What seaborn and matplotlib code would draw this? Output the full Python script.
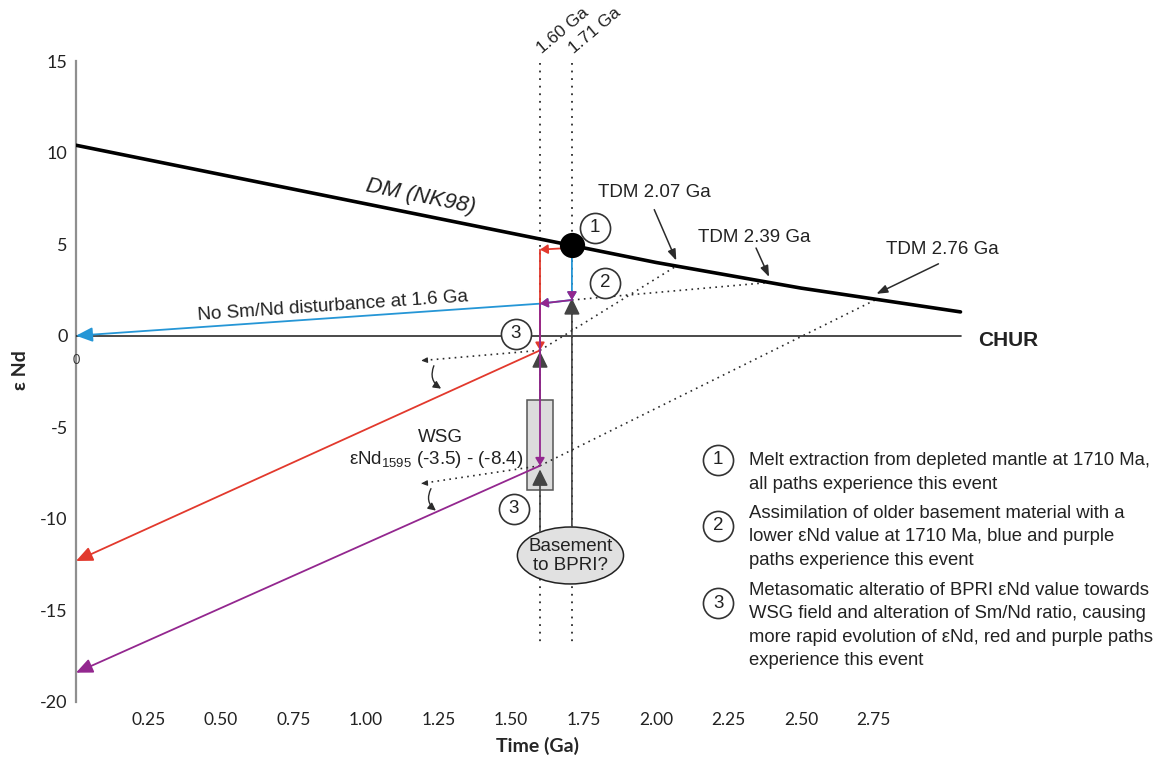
import numpy as np
import pandas as pd
import matplotlib
matplotlib.use("Agg")
import matplotlib.pyplot as plt
import seaborn as sns
from matplotlib.patches import Ellipse, Rectangle

# ---------------------------------------------------------------------------
# Data
# ---------------------------------------------------------------------------
# Depleted-mantle evolution curve, DM (NK98)
dm_time = [0.0, 0.5, 1.0, 1.5, 2.0, 2.5, 3.05]
dm_end = [10.4, 8.8, 7.2, 5.6, 4.0, 2.6, 1.3]

# Chondritic uniform reservoir
chur_time = [0.0, 3.05]
chur_end = [0.0, 0.0]

x_ticks = [0.25, 0.50, 0.75, 1.00, 1.25, 1.50, 1.75, 2.00, 2.25, 2.50, 2.75]
x_tick_labels = ["0.25", "0.50", "0.75", "1.00", "1.25", "1.50", "1.75",
                 "2.00", "2.25", "2.50", "2.75"]
y_ticks = [15, 10, 5, 0, -5, -10, -15, -20]
y_tick_labels = ["15", "10", "5", "0", "-5", "-10", "-15", "-20"]

# Event ages (Ga)
event_ages = [1.60, 1.71]
event_labels = ["1.60 Ga", "1.71 Ga"]

# Evolution paths: (time Ga, eNd) vertices
red_t = [1.71, 1.60, 1.60, 0.0]
red_e = [4.8, 4.7, -0.8, -12.3]
blue_t = [1.71, 1.71, 1.60, 0.0]
blue_e = [4.8, 1.95, 1.75, 0.0]
purple_t = [1.71, 1.60, 1.60, 0.0]
purple_e = [1.95, 1.75, -7.1, -18.4]

# Model ages where the projected paths meet the DM curve
tdm_ages = [2.07, 2.39, 2.76]
tdm_labels = ["TDM 2.07 Ga", "TDM 2.39 Ga", "TDM 2.76 Ga"]

# WSG field at 1595 Ma
wsg_high, wsg_low = -3.5, -8.4

legend_numbers = ["1", "2", "3"]
legend_lines = [
    ["Melt extraction from depleted mantle at 1710 Ma,",
     "all paths experience this event"],
    ["Assimilation of older basement material with a",
     "lower \u03b5Nd value at 1710 Ma, blue and purple",
     "paths experience this event"],
    ["Metasomatic alteratio of BPRI \u03b5Nd value towards",
     "WSG field and alteration of Sm/Nd ratio, causing",
     "more rapid evolution of \u03b5Nd, red and purple paths",
     "experience this event"],
]

RED = "#e2392d"
BLUE = "#2596d6"
PURPLE = "#93278f"
DARK = "#2b2b2b"

# ---------------------------------------------------------------------------
# Figure
# ---------------------------------------------------------------------------
sns.set_theme(style="white")
plt.rcParams["font.family"] = ["Liberation Sans", "DejaVu Sans"]
plt.rcParams["mathtext.fontset"] = "custom"
plt.rcParams["mathtext.rm"] = "Liberation Sans"
plt.rcParams["mathtext.it"] = "Liberation Sans:italic"

fig = plt.figure(figsize=(11.69, 7.60), dpi=100)
ax = fig.add_axes([76 / 1169, 1 - 702 / 760, 1084 / 1169, 641 / 760])
ax.set_xlim(0, 1084 / 290)
ax.set_ylim(-20, 15)

sns.despine(ax=ax, bottom=True)
ax.spines["left"].set_color("#8f8f8f")
ax.spines["left"].set_linewidth(1.6)

ax.set_xticks(x_ticks)
ax.set_xticklabels(x_tick_labels, fontfamily="Lato", fontsize=12.5, color="#222")
ax.set_yticks(y_ticks)
ax.set_yticklabels(y_tick_labels, fontfamily="Lato", fontsize=13, color="#222")
ax.tick_params(axis="x", length=0, pad=7)
ax.tick_params(axis="y", length=0, pad=6)

ax.set_xlabel("Time (Ga)", fontfamily="Lato", fontweight="bold", fontsize=14)
ax.xaxis.set_label_coords((537 - 76) / 1084, (702 - 746) / 641)
ax.xaxis.label.set_va("center")
ax.set_ylabel("\u03b5 Nd", fontfamily=["Lato", "DejaVu Sans"], fontweight="bold",
              fontsize=14)
ax.yaxis.set_label_coords((21 - 76) / 1084, (702 - 370) / 641)
ax.yaxis.label.set_va("center")

ax.text(0, -1.35, "0", fontsize=9, fontfamily="Lato", ha="center", va="center",
        color="#333")


def dm_at(t):
    return float(np.interp(t, dm_time, dm_end))


def screen_angle(p0, p1):
    a = ax.transData.transform([p0, p1])
    return np.degrees(np.arctan2(a[1, 1] - a[0, 1], a[1, 0] - a[0, 0]))


def seg(p0, p1, color, lw=1.2, head=None, z=5, hl=0.45, hw=0.2, ls="-"):
    style = "-" if head is None else f"-|>,head_length={hl},head_width={hw}"
    ax.annotate("", xy=p1, xytext=p0, zorder=z,
                arrowprops=dict(arrowstyle=style, color=color, lw=lw,
                                shrinkA=0, shrinkB=0, linestyle=ls,
                                mutation_scale=head or 10))


# DM curve and CHUR reference line
sns.lineplot(x=dm_time, y=dm_end, color="black", linewidth=2.6, ax=ax, zorder=4)
sns.lineplot(x=chur_time, y=chur_end, color=DARK, linewidth=1.2, ax=ax, zorder=3)
ax.text(3.214, -0.27, "CHUR", fontsize=15, fontweight="bold", ha="center",
        va="center", color="#222")

mid = 1.19
ang = screen_angle((1.0, dm_at(1.0)), (1.5, dm_at(1.5)))
ax.text(mid, dm_at(mid) + 1.0, "DM (NK98)", fontsize=16, style="italic",
        rotation=ang, rotation_mode="anchor", ha="center", va="center",
        color="#222")

# Event age markers
for age, lab in zip(event_ages, event_labels):
    ax.plot([age, age], [14.9, -16.9], color=DARK, lw=1.3,
            linestyle=(0, (1, 3.2)), zorder=2)
    ax.text(age + 0.015, 15.25, lab, fontsize=12.5, rotation=40,
            rotation_mode="anchor", ha="left", va="bottom", color="#222",
            clip_on=False)

# WSG field box
box_hw = 0.045
ax.add_patch(Rectangle((1.60 - box_hw, wsg_low), 2 * box_hw, wsg_high - wsg_low,
                       facecolor="#dcdcdc", edgecolor="#555", lw=1.1, zorder=2.5))
wsg_right = 1.60 - box_hw - 0.014
ax.text(wsg_right, -6.77, "\u03b5Nd$_{\\mathregular{1595}}$ (-3.5) - (-8.4)",
        fontsize=13.5, ha="right", va="center", color="#222")
ax.text(wsg_right - 0.286, -5.56, "WSG", fontsize=13.5, ha="center",
        va="center", color="#222")

# Basement ellipse with source arrows
ell_x, ell_y, ell_w, ell_h = 1.705, -12.0, 0.366, 3.11
ax.add_patch(Ellipse((ell_x, ell_y), ell_w, ell_h, facecolor="#e1e1e1",
                     edgecolor="#222", lw=1.1, zorder=2))
ax.text(ell_x, ell_y - 0.05, "Basement\nto BPRI?", fontsize=13.5, ha="center",
        va="center", linespacing=1.15, color="#222", zorder=6)


def ellipse_top(t):
    dx = (t - ell_x) / (ell_w / 2)
    return ell_y + (ell_h / 2) * np.sqrt(max(0.0, 1 - dx * dx))


tri = dict(head=22, hl=0.45, hw=0.22)
seg((1.71, ellipse_top(1.71)), (1.71, 2.05), "#444", lw=1.2, z=3, **tri)
seg((1.60, ellipse_top(1.60)), (1.60, -7.3), "#444", lw=1.2, z=3, **tri)
seg((1.60, wsg_high), (1.60, -0.85), "#444", lw=1.2, z=3, **tri)

# Projected (dotted) paths to the DM curve
dots = (0, (1, 2.6))
proj_start = [(red_t[2], red_e[2]), (blue_t[1], blue_e[1]),
              (purple_t[2], purple_e[2])]
for (t0, e0), tdm in zip(proj_start, tdm_ages):
    ax.plot([t0, tdm], [e0, dm_at(tdm)], color=DARK, lw=1.2, linestyle=dots,
            zorder=3)

# Backward projections with unchanged Sm/Nd
back_end = [(1.19, -1.36), (1.19, -8.07)]
for (t0, e0), (t1, e1) in zip([proj_start[0], proj_start[2]], back_end):
    ax.plot([t0, t1], [e0, e1], color=DARK, lw=1.2, linestyle=dots, zorder=3)
    seg((t1 + 0.02, e1 + 0.025), (t1, e1), DARK, lw=0.8, head=8, z=3)

# Curved arrows marking the change in slope
for p0, p1 in [((1.234, -1.64), (1.259, -2.89)), ((1.224, -8.35), (1.241, -9.55))]:
    ax.annotate("", xy=p1, xytext=p0, zorder=3,
                arrowprops=dict(arrowstyle="-|>,head_length=0.5,head_width=0.25",
                                connectionstyle="arc3,rad=0.4", color=DARK, lw=1.0,
                                shrinkA=0, shrinkB=0, mutation_scale=9))

# Evolution paths
small = dict(head=9, hl=0.5, hw=0.3)
big = dict(head=20, hl=0.5, hw=0.22)
for t, e, c in [(blue_t, blue_e, BLUE), (red_t, red_e, RED), (purple_t, purple_e, PURPLE)]:
    n = len(t) - 1
    for i in range(n):
        style = big if i == n - 1 else small
        seg((t[i], e[i]), (t[i + 1], e[i + 1]), c, lw=1.3, z=5, **style)
# shared blue/purple drop at 1.71 Ga ends in a purple head
seg((blue_t[1], blue_e[1] + 0.4), (blue_t[1], blue_e[1]), PURPLE, lw=1.3, z=5.5,
    **small)

ang = screen_angle((blue_t[3], blue_e[3]), (blue_t[2], blue_e[2]))
tx = 0.886
ax.text(tx, np.interp(tx, blue_t[:1:-1], blue_e[:1:-1]) + 0.62,
        "No Sm/Nd disturbance at 1.6 Ga", fontsize=13.5, rotation=ang,
        rotation_mode="anchor", ha="center", va="center", color="#222")

# Melt extraction point on the DM curve
ax.scatter([1.71], [dm_at(1.71)], s=330, color="black", zorder=7, linewidths=0)

# TDM annotations
tdm_label_off = [(-0.076, 3.71), (-0.052, 2.18), (0.228, 2.40)]
tdm_tail_off = [(-0.076, 2.78), (-0.045, 1.58), (0.214, 1.64)]
for tdm, lab, lo, to in zip(tdm_ages, tdm_labels, tdm_label_off, tdm_tail_off):
    tip = (tdm, dm_at(tdm) + 0.3)
    ax.text(tip[0] + lo[0], tip[1] + lo[1], lab, fontsize=13.5, ha="center",
            va="center", color="#222")
    seg((tip[0] + to[0], tip[1] + to[1]), tip, DARK, lw=1.1, head=11,
        hl=0.6, hw=0.22, z=4)


def circled(x, y, num, z=6):
    ax.scatter([x], [y], s=470, facecolor="white", edgecolor="#333",
               linewidths=1.2, zorder=z)
    ax.text(x, y, num, fontsize=13.5, ha="center", va="center", color="#222",
            zorder=z + 1)


# Circled event numbers on the paths
circled(1.789, 5.9, "1")
circled(1.824, 2.9, "2")
circled(1.517, 0.1, "3")
circled(1.510, -9.44, "3")

# Explanation of the numbered events
circle_x, text_x = 2.214, 2.321
circle_y = [-6.76, -10.37, -14.62]
first_line_y = [-6.82, -9.71, -13.91]
line_step = 1.28
for num, cy, ly, lines in zip(legend_numbers, circle_y, first_line_y, legend_lines):
    circled(circle_x, cy, num)
    for k, line in enumerate(lines):
        ax.text(text_x, ly - k * line_step, line, fontsize=13.3, ha="left",
                va="center", color="#222")

fig.savefig("out.png", dpi=100)
